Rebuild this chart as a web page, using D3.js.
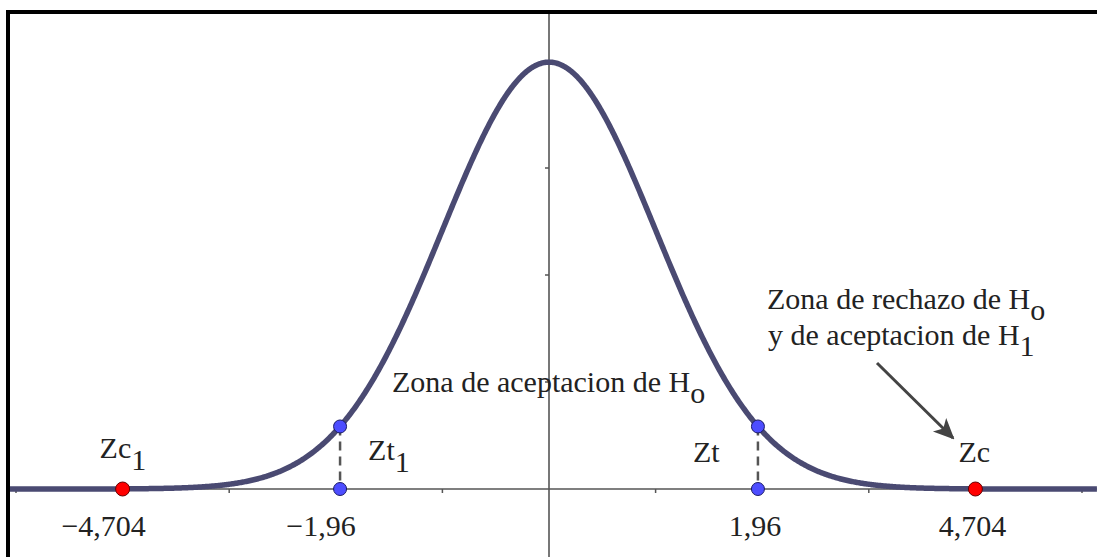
<!DOCTYPE html>
<html>
<head>
<meta charset="utf-8">
<script src="https://cdn.jsdelivr.net/npm/d3@7"></script>
<style>
  body { margin: 0; background: #fff; }
</style>
</head>
<body>
<script>
// plot positions of the marked points (curve units) and their printed labels
var ztPos = [-1.96, 1.96];
var ztLabels = ["\u22121,96", "1,96"];
var zcPos = [-4, 4];
var zcLabels = ["\u22124,704", "4,704"];
var xTicks = [-5, -4, -3, -2, -1, 1, 2, 3, 4, 5];
var yTicks = [0.1, 0.2, 0.3, 0.4];

var width = 1097;
var height = 557;

var frameLeft = 8;
var frameTop = 12;

var curveColor = "#4a4a72";
var axisColor = "#555";
var fontFamily = "'Liberation Serif'";

var x = d3.scaleLinear()
        .domain([-5, 5])
        .range([549 - 5 * 106.6, 549 + 5 * 106.6]);

var y = d3.scaleLinear()
        .domain([0, 0.4])
        .range([489, 489 - 0.4 * 1070]);

function pdf(z) { return Math.exp(-z * z / 2) / Math.sqrt(2 * Math.PI); }

var svg = d3.select("body").append("svg")
            .attr("width", width)
            .attr("height", height);

var defs = svg.append("defs");
defs.append("clipPath").attr("id", "frame")
    .append("rect")
    .attr("x", frameLeft + 2)
    .attr("y", frameTop + 2)
    .attr("width", width)
    .attr("height", height);
defs.append("marker")
    .attr("id", "arrow")
    .attr("viewBox", "0 0 10 10")
    .attr("refX", 9)
    .attr("refY", 5)
    .attr("markerWidth", 7)
    .attr("markerHeight", 7)
    .attr("markerUnits", "strokeWidth")
    .attr("orient", "auto")
    .append("path")
    .attr("d", "M0,0.5 L10,5 L0,9.5 L2.5,5 Z")
    .attr("fill", "#444");

var plot = svg.append("g").attr("clip-path", "url(#frame)");

// axes
plot.append("line")
    .attr("x1", 0).attr("x2", width)
    .attr("y1", y(0)).attr("y2", y(0))
    .attr("stroke", axisColor).attr("stroke-width", 1.6);
plot.append("line")
    .attr("x1", x(0)).attr("x2", x(0))
    .attr("y1", 0).attr("y2", height)
    .attr("stroke", axisColor).attr("stroke-width", 1.6);

plot.selectAll(".xtick")
    .data(xTicks)
    .enter()
    .append("line")
    .attr("class", "xtick")
    .attr("x1", function(d) { return x(d); })
    .attr("x2", function(d) { return x(d); })
    .attr("y1", y(0))
    .attr("y2", y(0) + 4)
    .attr("stroke", axisColor).attr("stroke-width", 1.5);

plot.selectAll(".ytick")
    .data(yTicks)
    .enter()
    .append("line")
    .attr("class", "ytick")
    .attr("x1", x(0) - 4)
    .attr("x2", x(0))
    .attr("y1", function(d) { return y(d); })
    .attr("y2", function(d) { return y(d); })
    .attr("stroke", axisColor).attr("stroke-width", 1.5);

// normal curve
var zs = d3.range(x.invert(0), x.invert(width), 0.01);
var line = d3.line()
             .x(function(d) { return x(d); })
             .y(function(d) { return y(pdf(d)); });
plot.append("path")
    .datum(zs)
    .attr("d", line)
    .attr("fill", "none")
    .attr("stroke", curveColor)
    .attr("stroke-width", 5.5);

// dashed drops from the curve to the axis
plot.selectAll(".drop")
    .data(ztPos)
    .enter()
    .append("line")
    .attr("class", "drop")
    .attr("x1", function(d) { return x(d); })
    .attr("x2", function(d) { return x(d); })
    .attr("y1", function(d) { return y(pdf(d)); })
    .attr("y2", y(0))
    .attr("stroke", axisColor)
    .attr("stroke-width", 2.5)
    .attr("stroke-dasharray", "9,6");

// points
var bluePts = ztPos.map(function(d) { return [d, pdf(d)]; })
                   .concat(ztPos.map(function(d) { return [d, 0]; }));
plot.selectAll(".blue")
    .data(bluePts)
    .enter()
    .append("circle")
    .attr("class", "blue")
    .attr("cx", function(d) { return x(d[0]); })
    .attr("cy", function(d) { return y(d[1]); })
    .attr("r", 6.5)
    .attr("fill", "#4d4dff")
    .attr("stroke", "#1a1a66")
    .attr("stroke-width", 1);

plot.selectAll(".red")
    .data(zcPos)
    .enter()
    .append("circle")
    .attr("class", "red")
    .attr("cx", function(d) { return x(d); })
    .attr("cy", y(0))
    .attr("r", 7)
    .attr("fill", "#ff0000")
    .attr("stroke", "#660000")
    .attr("stroke-width", 1);

// frame
svg.append("rect")
   .attr("x", frameLeft)
   .attr("y", frameTop)
   .attr("width", width + 20)
   .attr("height", height + 20)
   .attr("fill", "none")
   .attr("stroke", "#000")
   .attr("stroke-width", 4);

// tick labels for the marked values
var labelData = ztPos.map(function(d, i) { return { pos: d, label: ztLabels[i] }; })
                .concat(zcPos.map(function(d, i) { return { pos: d, label: zcLabels[i] }; }));
svg.selectAll(".vlabel")
   .data(labelData)
   .enter()
   .append("text")
   .attr("class", "vlabel")
   .attr("x", function(d) { return x(d.pos) + (d.pos < 0 ? -19 : -3); })
   .attr("y", 536)
   .attr("text-anchor", "middle")
   .style("font-family", fontFamily)
   .style("font-size", "30px")
   .attr("fill", "#222")
   .text(function(d) { return d.label; });

// point names with subscripts
function subText(xp, yp, main, sub, drop) {
    var t = svg.append("text")
               .attr("x", xp)
               .attr("y", yp)
               .style("font-family", fontFamily)
               .style("font-size", "30px")
               .attr("fill", "#222");
    t.append("tspan").text(main);
    if (sub) t.append("tspan").attr("dy", drop).text(sub);
    return t;
}

subText(x(zcPos[0]) - 23, 458, "Zc", "1", 12);
subText(x(ztPos[0]) + 28, 460, "Zt", "1", 12);
subText(x(ztPos[1]) - 65, 462, "Zt", null, 0);
subText(x(zcPos[1]) - 17, 462, "Zc", null, 0);

subText(392, 392, "Zona de aceptacion de H", "o", 11);
subText(767, 309, "Zona de rechazo de H", "o", 11);
subText(768, 345, "y de aceptacion de H", "1", 11);

// arrow pointing to the rejection zone
svg.append("line")
   .attr("x1", 877).attr("y1", 363)
   .attr("x2", 953).attr("y2", 438)
   .attr("stroke", "#444")
   .attr("stroke-width", 3)
   .attr("marker-end", "url(#arrow)");
</script>
</body>
</html>
